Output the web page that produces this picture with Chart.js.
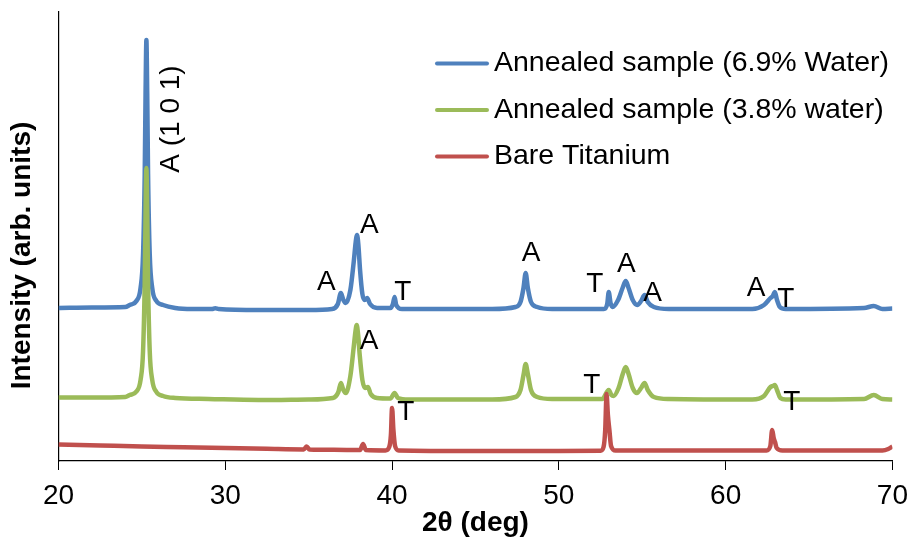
<!DOCTYPE html>
<html>
<head>
<meta charset="utf-8">
<script src="https://cdn.jsdelivr.net/npm/chart.js@4.4.1/dist/chart.umd.min.js"></script>
<style>
html,body{margin:0;padding:0;background:#ffffff;}
canvas{display:block;}
</style>
</head>
<body>
<canvas id="c" width="917" height="543"></canvas>
<script>
// ---------- data ----------
const seriesNames = ['Annealed sample (6.9% Water)', 'Annealed sample (3.8% water)', 'Bare Titanium'];
const seriesColors = ['#4F81BD', '#9BBB59', '#C0504D'];

const blueTheta = [20,22,24,24.27,24.67,24.92,25.07,25.17,25.22,25.27,25.32,25.37,25.47,25.62,25.87,26.27,27,28,29.2,29.4,29.6,32,35,36.4,36.75,36.93,37.08,37.22,37.5,37.7,37.82,37.9,37.98,38.08,38.22,38.36,38.51,38.68,39.1,39.9,40.05,40.15,40.25,40.6,43,46,47.4,47.7,47.88,48.01,48.14,48.33,48.7,49.6,52.7,52.9,52.99,53.1,53.22,53.55,53.82,54.01,54.18,54.43,54.7,54.93,55.14,55.33,55.7,56.6,61.6,62.3,62.69,62.83,62.95,63.08,63.25,63.6,68.3,68.88,69.4,70];
const blueIntensity = [152,152.5,153,155,159,172,206,286,366,420,366,286,206,172,159,155,152,151,151,151.8,151,150,150,151,156,167,160,157,170,198,218,225,215,190,166,160,162,156,152,152,156,163,155,151,151,151,153,158,172,187,172,158,153,151,151,156,168,157,153,160,172,179,172,160,155,159,165,158,153,151,151,155,162,164,168,160,153,151,152,154,151,151.5];

const greenTheta = [20,22,24,24.27,24.67,24.92,25.07,25.17,25.22,25.27,25.32,25.37,25.47,25.62,25.87,26.27,27,29,32,35,36.45,36.78,36.93,37.08,37.22,37.5,37.7,37.8,37.88,37.96,38.06,38.22,38.38,38.55,38.72,39.1,39.9,40.15,40.35,41,46,47.4,47.7,47.88,48.01,48.14,48.33,48.7,49.6,52.6,52.99,53.15,53.28,53.58,53.83,54.01,54.18,54.43,54.68,54.93,55.14,55.33,55.7,56.6,61.6,62.3,62.69,62.83,62.95,63.08,63.28,63.6,68.3,68.88,69.4,70];
const greenIntensity = [62.5,62.5,63,65,68.5,80,109,178,246,292,246,178,109,80,68,64,62,61,60,60.5,62,68,77,70,67,84,113,128,135,126,105,80,72,73,66,62,61.5,67,62,60.5,60.5,63,70,85,96,86,70,63,61,61,70,65,64,72,86,93,86,72,67,72,77,70,63,61,60.5,64,73,74,75,70,62,60.5,61,65,61,60.5];

const redTheta = [20,22.5,25,27.5,30,32.5,34.7,34.88,35.05,36.5,38.08,38.26,38.43,39.6,39.83,39.93,40.0,40.08,40.18,40.4,45,50,52.5,52.68,52.78,52.86,52.94,53.03,53.13,53.4,57,62.45,62.68,62.79,62.88,62.96,63.06,63.4,69.4,69.75,70];
const redIntensity = [15.5,14.5,13.5,12.8,12,11.2,10.6,13.5,10.5,10.2,10,16,10,9.6,13,25,52,30,14,9.5,9,9,9.2,13,30,66,45,30,14,9.5,9.5,9.5,14,30,22,18,12,9.5,9.5,11,13.5];

const xTicks = [20, 30, 40, 50, 60, 70];

const peakLabels = ['A (1 0 1)', 'A', 'A', 'T', 'A', 'T', 'A', 'A', 'A', 'T', 'A', 'T', 'T', 'T'];
const peakLabelTheta = [26.76, 36.06, 38.63, 40.65, 48.34, 52.16, 54.04, 55.62, 61.82, 63.61, 38.62, 51.98, 63.97, 40.83];
const peakLabelIntensity = [341, 178, 234.5, 168, 207, 176, 195.5, 167, 172, 160.5, 119, 75, 58, 48];
const peakLabelAngle = [-90, 0, 0, 0, 0, 0, 0, 0, 0, 0, 0, 0, 0, 0];

const xTitle = '2\u03B8 (deg)';
const yTitle = 'Intensity (arb. units)';

// ---------- chart ----------
const FONT = '"Liberation Sans", Arial, sans-serif';
const toPoints = (xs, ys) => xs.map((v, i) => ({x: v, y: ys[i]}));

const overlay = {
  id: 'overlay',
  afterDatasetsDraw(chart) {
    const {ctx, scales} = chart;
    const xs = scales.x, ys = scales.y;
    ctx.save();
    ctx.fillStyle = '#000';
    ctx.font = '28px ' + FONT;
    ctx.textAlign = 'center';
    ctx.textBaseline = 'middle';
    peakLabels.forEach((t, i) => {
      const px = xs.getPixelForValue(peakLabelTheta[i]);
      const py = ys.getPixelForValue(peakLabelIntensity[i]);
      ctx.save();
      ctx.translate(px, py);
      ctx.rotate(peakLabelAngle[i] * Math.PI / 180);
      ctx.fillText(t, 0, 0);
      ctx.restore();
    });
    // legend
    const rowY = [63.5, 110, 156.5];
    ctx.font = '28.5px ' + FONT;
    chart.data.datasets.forEach((ds, i) => {
      ctx.strokeStyle = ds.borderColor;
      ctx.lineWidth = 4;
      ctx.lineCap = 'round';
      ctx.beginPath();
      ctx.moveTo(437, rowY[i]);
      ctx.lineTo(487, rowY[i]);
      ctx.stroke();
      ctx.textAlign = 'left';
      ctx.fillText(ds.label, 494, rowY[i]);
    });
    // y axis title
    ctx.save();
    ctx.font = 'bold 28px ' + FONT;
    ctx.textAlign = 'center';
    ctx.translate(22.5, 255.5);
    ctx.rotate(-Math.PI / 2);
    ctx.fillText(yTitle, 0, 0);
    ctx.restore();
    ctx.restore();
  }
};

const datasets = [
  {label: seriesNames[0], data: toPoints(blueTheta, blueIntensity), borderColor: seriesColors[0], order: 3},
  {label: seriesNames[1], data: toPoints(greenTheta, greenIntensity), borderColor: seriesColors[1], order: 2},
  {label: seriesNames[2], data: toPoints(redTheta, redIntensity), borderColor: seriesColors[2], order: 1}
].map(d => Object.assign(d, {
  borderWidth: 4.5, pointRadius: 0, fill: false, cubicInterpolationMode: 'monotone'
}));

new Chart(document.getElementById('c'), {
  type: 'line',
  data: {datasets},
  options: {
    responsive: false,
    animation: false,
    devicePixelRatio: 1,
    layout: {padding: {top: 12, right: 20, left: 0, bottom: 0}},
    plugins: {legend: {display: false}, tooltip: {enabled: false}},
    scales: {
      x: {
        type: 'linear', min: 20, max: 70,
        afterBuildTicks: s => { s.ticks = xTicks.map(v => ({value: v})); },
        afterFit: s => { s.height = 82; },
        grid: {display: true, drawOnChartArea: false, drawTicks: true, tickLength: 9, color: '#000', lineWidth: 1},
        border: {display: true, color: '#000', width: 1.2},
        ticks: {color: '#000', font: {family: FONT, size: 28}, padding: 9, maxRotation: 0},
        title: {display: true, text: xTitle, color: '#000', font: {family: FONT, size: 28, weight: 'bold'}, padding: {top: 0, bottom: 3}}
      },
      y: {
        type: 'linear', min: -1, max: 448,
        afterFit: s => { s.width = 58.5; },
        grid: {display: false},
        border: {display: true, color: '#000', width: 1.2},
        ticks: {display: false},
        title: {display: false}
      }
    }
  },
  plugins: [overlay]
});
</script>
</body>
</html>
